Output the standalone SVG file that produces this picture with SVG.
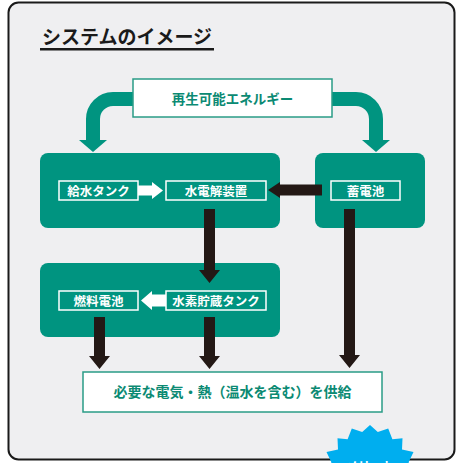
<svg xmlns="http://www.w3.org/2000/svg" width="457" height="463" viewBox="0 0 457 463">
<style>
.t{font-family:"Noto Sans CJK JP","Noto Sans",sans-serif;font-weight:bold}
.big{fill:#009480}
.inbox{fill:none;stroke:#ffffff;stroke-width:1.5}
.inlab{fill:#ffffff;font-size:12.5px;text-anchor:middle}
.wbox{fill:#ffffff;stroke:#2a9c86;stroke-width:1.5}
.tlab{fill:#0b8a73;text-anchor:middle}
.blk{fill:#231815}
.tealc{fill:none;stroke:#009480;stroke-width:14}
</style>
<rect x="0" y="0" width="457" height="463" fill="#ffffff"/>
<rect x="8.5" y="2.5" width="446" height="457" rx="10" fill="#efeff1" stroke="#1a1a1a" stroke-width="2"/>
<g id="title">
<text class="t" x="42" y="44" font-size="19" fill="#1a1a1a">システムのイメージ</text>
<rect x="40" y="48" width="174" height="2.5" fill="#1a1a1a"/>
</g>
<g id="group-electrolysis">
<rect class="big" x="40" y="153" width="240" height="75" rx="8"/>
</g>
<g id="group-battery">
<rect class="big" x="315" y="153" width="110" height="75" rx="8"/>
</g>
<g id="group-fuelcell">
<rect class="big" x="40" y="263" width="240" height="74" rx="8"/>
</g>
<g id="connectors">
<path class="tealc" d="M133,99 H113 A20,20 0 0 0 93,119 V141"/>
<polygon fill="#009480" points="79,140 107,140 93,152"/>
<path class="tealc" d="M332,99 H356 A20,20 0 0 1 376,119 V141"/>
<polygon fill="#009480" points="362,140 390,140 376,152"/>
<polygon fill="#ffffff" points="138,185.5 152,185.5 152,182 163,190.5 152,199 152,195.5 138,195.5"/>
<polygon class="blk" points="322,184.5 280,184.5 280,182 268,190 280,198 280,195.5 322,195.5"/>
<polygon class="blk" points="204,209 215,209 215,270 220,270 209.5,283 199,270 204,270"/>
<polygon class="blk" points="344,209 355,209 355,355 360,355 349.5,368 339,355 344,355"/>
<polygon fill="#ffffff" points="166,294.5 152,294.5 152,291 141,300.5 152,310 152,306.5 166,306.5"/>
<polygon class="blk" points="94,317 105,317 105,356 110,356 99.5,369 89,356 94,356"/>
<polygon class="blk" points="204,317 215,317 215,356 220,356 209.5,369 199,356 204,356"/>
</g>
<g id="renewable">
<rect class="wbox" x="133" y="79" width="199" height="38"/>
<text class="t tlab" x="232.5" y="104" font-size="13.5">再生可能エネルギー</text>
</g>
<g id="water-tank">
<rect class="inbox" x="59" y="181" width="79" height="19"/>
<text class="t inlab" x="98.5" y="195.5">給水タンク</text>
</g>
<g id="electrolyzer">
<rect class="inbox" x="166" y="181" width="100" height="19"/>
<text class="t inlab" x="216" y="195.5">水電解装置</text>
</g>
<g id="battery">
<rect class="inbox" x="331" y="181" width="69" height="19"/>
<text class="t inlab" x="365.5" y="195.5">蓄電池</text>
</g>
<g id="fuel-cell">
<rect class="inbox" x="59" y="291" width="79" height="19"/>
<text class="t inlab" x="98.5" y="305.5">燃料電池</text>
</g>
<g id="h2-tank">
<rect class="inbox" x="166" y="291" width="100" height="19"/>
<text class="t inlab" x="216" y="305.5">水素貯蔵タンク</text>
</g>
<g id="supply">
<rect class="wbox" x="83" y="372" width="299" height="40"/>
<text class="t tlab" x="232.5" y="397" font-size="14">必要な電気・熱（温水を含む）を供給</text>
</g>
<g id="badge">
<polygon fill="#00aeef" points="370,425 377.8,432 388.2,428.4 392.4,439.2 402.5,438.3 402,449.4 413.5,452 408.5,462.5 418.3,468.8 412.5,478 421,485 412.5,492 418.3,501.2 408.5,507.5 413.5,518 402,520.6 402.5,531.7 392.4,530.8 388.2,541.6 377.8,538 370,545 362.2,538 351.8,541.6 347.6,530.8 337.5,531.7 338,520.6 326.5,518 331.5,507.5 321.7,501.2 327.5,492 319,485 327.5,478 321.7,468.8 331.5,462.5 326.5,452 338,449.4 337.5,438.3 347.6,439.2 351.8,428.4 362.2,432"/>
<text class="t" x="370" y="471" font-size="12" fill="#ffffff" text-anchor="middle">メリット</text>
</g>
</svg>
